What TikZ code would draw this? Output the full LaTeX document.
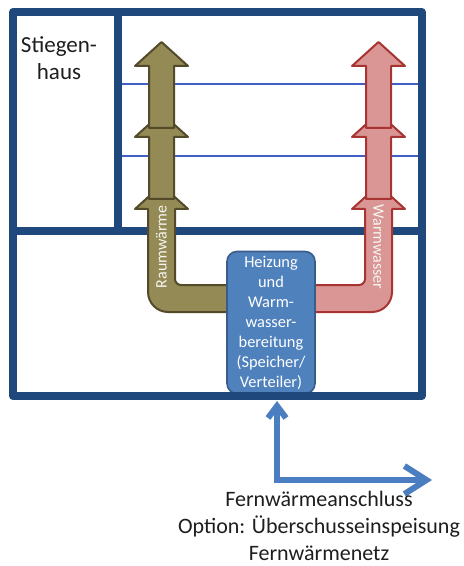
\documentclass[tikz,border=0pt]{standalone}
\usepackage{fontspec}
\setmainfont{Carlito}
\usetikzlibrary{arrows.meta,positioning}

\definecolor{rahmenblau}{RGB}{31,73,125}
\definecolor{linienblau}{RGB}{64,96,200}
\definecolor{olivfill}{RGB}{148,138,86}
\definecolor{olivrand}{RGB}{82,74,40}
\definecolor{rotfill}{RGB}{217,150,148}
\definecolor{rotrand}{RGB}{168,52,50}
\definecolor{boxfill}{RGB}{79,129,189}
\definecolor{boxrand}{RGB}{56,93,138}
\definecolor{fwblau}{RGB}{74,126,193}
\definecolor{textgrau}{RGB}{30,30,30}

\begin{document}
\begin{tikzpicture}[x=0.5pt,y=-0.5pt,
    rahmen/.style={draw=rahmenblau, line width=4pt, line join=round},
    geschoss/.style={draw=linienblau, line width=0.8pt},
    raumpfeil/.style={fill=olivfill, draw=olivrand, line width=1pt, line join=round},
    wasserpfeil/.style={fill=rotfill, draw=rotrand, line width=1pt, line join=round},
    heizbox/.style={fill=boxfill, draw=boxrand, line width=0.8pt, rounded corners=5pt,
        minimum width=44pt, minimum height=71pt, inner sep=0, text=white, align=center,
        font=\fontsize{8.2}{10}\selectfont},
    pfeiltext/.style={text=white!92!olivfill, inner sep=0, font=\fontsize{8}{9}\selectfont},
    fwleitung/.style={draw=fwblau, line width=3pt,
        arrows={Straight Barb[length=6pt,width=9pt]-Straight Barb[length=11pt,width=14pt]}}
  ]
        \useasboundingbox (0,0) rectangle (464,566);

        % Define shaft centres of the two risers
        \def\xr{161.5}
        \def\xw{378.5}

        % floors and walls inside the house
        \draw[geschoss] (121,84) -- (418,84);
        \draw[geschoss] (121,156) -- (418,156);
        \draw[rahmen] (13,231.5) -- (421.5,231.5);
        \draw[rahmen] (117.5,12) -- (117.5,231.5);

        % Raumwaerme riser (bent arrow from the box)
        \draw[raumpfeil] (235,285) -- (181,285) .. controls (177.7,285) and (175,282.3) .. (175,279)
          -- (175,209) -- (188,209) -- (\xr,185) -- (135,209) -- (148,209) -- (148,292)
          .. controls (148,303) and (157,312) .. (168,312) -- (235,312) -- cycle;

        % Warmwasser riser (bent arrow from the box)
        \draw[wasserpfeil] (310,285) -- (359,285) .. controls (362.3,285) and (365,282.3) .. (365,279)
          -- (365,209) -- (352,209) -- (\xw,185) -- (405,209) -- (392,209) -- (392,292)
          .. controls (392,303) and (383,312) .. (372,312) -- (310,312) -- cycle;

        % upper floors
        \foreach \spitze in {113,42} {
          \draw[raumpfeil] ({\xr-12.5},{\spitze+86}) -- ({\xr-12.5},{\spitze+24}) -- ({\xr-26.5},{\spitze+24})
            -- (\xr,\spitze) -- ({\xr+26.5},{\spitze+24}) -- ({\xr+12.5},{\spitze+24}) -- ({\xr+12.5},{\spitze+86}) -- cycle;
          \draw[wasserpfeil] ({\xw-12.5},{\spitze+86}) -- ({\xw-12.5},{\spitze+24}) -- ({\xw-26.5},{\spitze+24})
            -- (\xw,\spitze) -- ({\xw+26.5},{\spitze+24}) -- ({\xw+12.5},{\spitze+24}) -- ({\xw+12.5},{\spitze+86}) -- cycle;
        }

        % labels on the risers
        \node[pfeiltext, rotate=90] (raumwaerme) at (\xr,247) {Raumwärme};
        \node[pfeiltext, rotate=-90] (warmwasser) at (\xw,247) {Warmwasser};

        % heating and hot water unit
        \node[heizbox] (heizung) at (271,322.5) {Heizung\\und\\Warm-\\wasser-\\bereitung\\(Speicher/\\Verteiler)};

        % outer wall
        \draw[rahmen] (13,12) rectangle (421.5,396);

        \node[align=center, text=textgrau, font=\fontsize{11.5}{13.5}\selectfont] (stiegenhaus) at (59,58) {Stiegen-\\haus};

        % district heating connection
        \coordinate (anschluss) at (277,401);
        \coordinate (netz) at (432,480);
        \draw[fwleitung] (anschluss) |- (netz);

        \node[align=center, text=textgrau, inner sep=1pt, font=\fontsize{11}{13.5}\selectfont] (netz_label) at (319,526)
          {Fernwärmeanschluss\\Option: Überschusseinspeisung\\Fernwärmenetz};

\end{tikzpicture}
\end{document}
